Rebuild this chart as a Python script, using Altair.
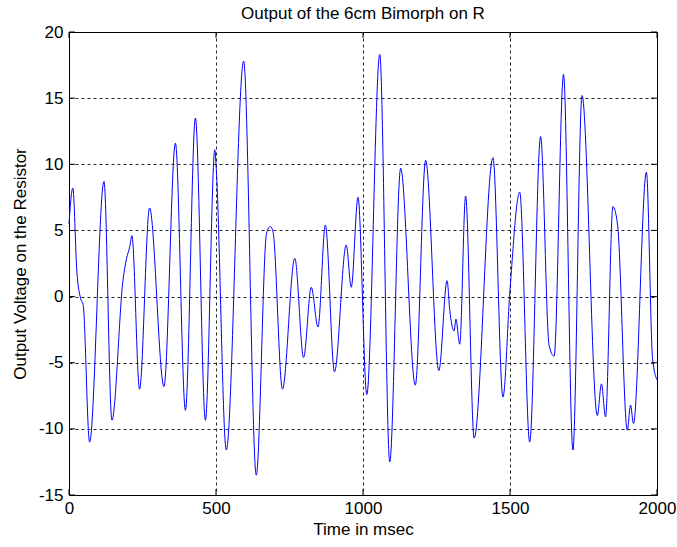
import altair as alt
import pandas as pd

# Time (ms) and output voltage (V)
times = [0, 13, 27, 38, 42, 48, 70, 119, 146, 184, 195, 207, 214, 240, 274, 323,
         362, 396, 430, 464, 496, 501, 535, 594, 637, 672, 685, 694, 726, 768,
         798, 824, 847, 872, 903, 943, 960, 983, 1013, 1057, 1091, 1128, 1178,
         1213, 1258, 1286, 1295, 1310, 1316, 1329, 1349, 1378, 1442, 1476, 1500,
         1533, 1567, 1604, 1633, 1650, 1682, 1714, 1745, 1797, 1811, 1825, 1850,
         1866, 1899, 1910, 1920, 1964, 1985, 2000]
volts = [5.5, 8.2, 1.8, 0.0, -0.3, -0.6, -11.0, 8.7, -9.35, 1.3, 2.8, 3.8, 4.6,
         -7.0, 6.7, -6.8, 11.6, -8.6, 13.5, -9.35, 11.1, 9.6, -11.6, 17.8, -13.5,
         4.8, 5.3, 4.9, -7.0, 2.9, -4.6, 0.7, -2.3, 5.4, -5.7, 3.9, 0.7, 7.5,
         -7.4, 18.3, -12.5, 9.7, -6.7, 10.3, -5.6, 1.2, -1.0, -2.6, -1.7, -3.6,
         7.6, -10.7, 10.5, -7.6, 0.5, 7.9, -11.0, 12.1, -3.7, -4.5, 16.8, -11.6,
         15.2, -9.0, -6.6, -9.1, 6.8, 5.4, -10.1, -8.2, -9.6, 9.4, -4.7, -6.3]

x_ticks = [0, 500, 1000, 1500, 2000]
y_ticks = [-15, -10, -5, 0, 5, 10, 15, 20]

df = pd.DataFrame({"t": times, "v": volts})
xt = pd.DataFrame({"t": x_ticks})
yt = pd.DataFrame({"v": y_ticks})

W, H = 588, 463
FONT = "Liberation Sans"
FS = 17

xscale = alt.Scale(domain=[0, 2000], nice=False, zero=False)
yscale = alt.Scale(domain=[-15, 20], nice=False, zero=False)

x_axis = alt.Axis(title="Time in msec", values=x_ticks, labelExpr="'' + datum.value",
                  grid=True, gridColor="#000000", gridDash=[3, 3], gridOpacity=0.85,
                  ticks=False, domain=False, labelPadding=5, labelFontSize=FS,
                  titleFontSize=FS, titlePadding=5, labelFont=FONT, titleFont=FONT,
                  labelColor="#000000", titleColor="#000000", titleFontWeight="normal",
                  labelFlush=False)
y_axis = alt.Axis(title="Output Voltage on the Resistor", values=y_ticks,
                  labelExpr="'' + datum.value",
                  grid=True, gridColor="#000000", gridDash=[3, 3], gridOpacity=0.85,
                  ticks=False, domain=False, labelPadding=6, labelFontSize=FS,
                  titleFontSize=FS, titlePadding=9, labelFont=FONT, titleFont=FONT,
                  labelColor="#000000", titleColor="#000000", titleFontWeight="normal",
                  labelFlush=False)

line = alt.Chart(df).mark_line(color="#0000FF", strokeWidth=1, interpolate="monotone").encode(
    x=alt.X("t:Q", scale=xscale, axis=x_axis),
    y=alt.Y("v:Q", scale=yscale, axis=y_axis),
)

xb = alt.Chart(xt).mark_rule(color="black", strokeWidth=1).encode(
    x=alt.X("t:Q", scale=xscale, axis=x_axis), y=alt.value(H), y2=alt.value(H - 6))
xtop = alt.Chart(xt).mark_rule(color="black", strokeWidth=1).encode(
    x=alt.X("t:Q", scale=xscale, axis=x_axis), y=alt.value(0), y2=alt.value(6))
yl = alt.Chart(yt).mark_rule(color="black", strokeWidth=1).encode(
    y=alt.Y("v:Q", scale=yscale, axis=y_axis), x=alt.value(0), x2=alt.value(6))
yr = alt.Chart(yt).mark_rule(color="black", strokeWidth=1).encode(
    y=alt.Y("v:Q", scale=yscale, axis=y_axis), x=alt.value(W), x2=alt.value(W - 6))

chart = alt.layer(line, xb, xtop, yl, yr).properties(
    width=W, height=H,
    title=alt.TitleParams("Output of the 6cm Bimorph on R", font=FONT, fontSize=FS,
                          fontWeight="normal", color="#000000", anchor="middle", offset=0),
    autosize=alt.AutoSizeParams(type="none"),
    padding={"left": 69, "top": 32, "right": 20, "bottom": 52},
    background="white",
).configure_view(stroke="black", strokeWidth=1)

chart.save("out.html", embed_options={"renderer": "svg", "actions": False})
